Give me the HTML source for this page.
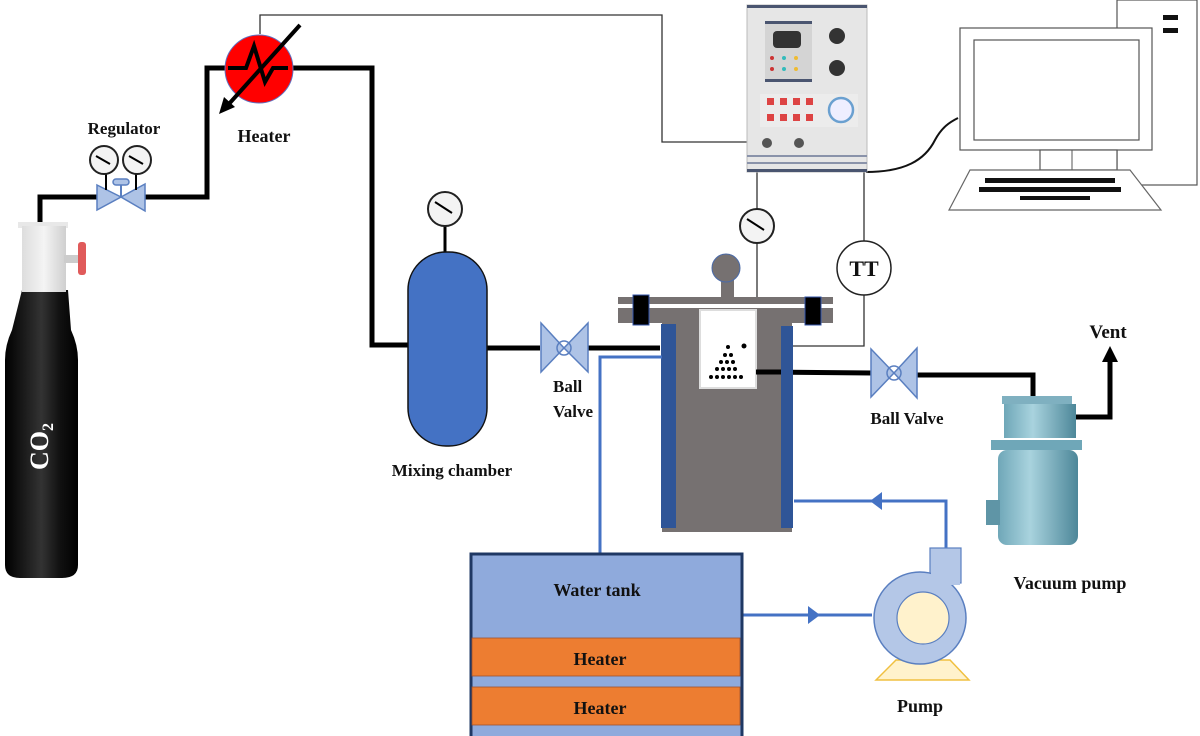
<!DOCTYPE html>
<html><head><meta charset="utf-8"><style>
html,body{margin:0;padding:0;background:#fff;}
svg{display:block;}
text{font-family:"Liberation Serif",serif;font-weight:bold;fill:#111;}
</style></head><body>
<svg width="1200" height="736" viewBox="0 0 1200 736" xmlns="http://www.w3.org/2000/svg">
<defs>
<linearGradient id="cyl" x1="0" x2="1"><stop offset="0" stop-color="#000"/><stop offset="0.5" stop-color="#333"/><stop offset="0.75" stop-color="#111"/><stop offset="1" stop-color="#000"/></linearGradient>
<linearGradient id="cap" x1="0" x2="1"><stop offset="0" stop-color="#ddd"/><stop offset="0.5" stop-color="#f4f4f4"/><stop offset="1" stop-color="#cfcfcf"/></linearGradient>
<linearGradient id="vp" x1="0" x2="1"><stop offset="0" stop-color="#6fa7b8"/><stop offset="0.4" stop-color="#a9d3de"/><stop offset="1" stop-color="#4d8799"/></linearGradient>
</defs>

<!-- thin control lines -->
<polyline points="260,34 260,15 662,15 662,142 748,142" fill="none" stroke="#333" stroke-width="1.3"/>
<line x1="757" y1="172" x2="757" y2="302" stroke="#333" stroke-width="1.3"/>
<line x1="864" y1="172" x2="864" y2="242" stroke="#333" stroke-width="1.3"/>
<polyline points="864,294 864,346 744,346" fill="none" stroke="#333" stroke-width="1.3"/>
<path d="M866,172 C905,172 925,160 935,140 C942,127 950,122 958,118" fill="none" stroke="#111" stroke-width="2"/>

<!-- gas pipes -->
<polyline points="40,222 40,197 100,197" fill="none" stroke="#000" stroke-width="5"/>
<polyline points="145,197 207,197 207,68 235,68" fill="none" stroke="#000" stroke-width="5"/>
<polyline points="283,68 372,68 372,345 410,345" fill="none" stroke="#000" stroke-width="5"/>
<line x1="487" y1="348" x2="540" y2="348" stroke="#000" stroke-width="5"/>
<line x1="587" y1="348" x2="660" y2="348" stroke="#000" stroke-width="5"/>
<line x1="758" y1="372" x2="872" y2="373" stroke="#000" stroke-width="5"/>
<polyline points="917,375 1033,375 1033,397" fill="none" stroke="#000" stroke-width="5"/>
<polyline points="1076,417 1110,417 1110,358" fill="none" stroke="#000" stroke-width="5"/>
<path d="M1102,362 L1110,346 L1118,362 z" fill="#000"/>

<!-- CO2 cylinder -->
<path d="M22,290 L68,290 L71,330 Q78,345 78,360 L78,565 Q78,578 62,578 L20,578 Q5,578 5,565 L5,360 Q5,345 12,330 Z" fill="url(#cyl)"/>
<rect x="18" y="222" width="50" height="6" fill="#e8e8e8"/>
<rect x="22" y="226" width="44" height="66" fill="url(#cap)"/>
<rect x="64" y="255" width="16" height="8" fill="#ccc"/>
<rect x="78" y="242" width="8" height="33" rx="3" fill="#e05a5a"/>
<text transform="translate(48,470) rotate(-90)" font-size="26" style="fill:#fff">CO<tspan font-size="16" dy="5">2</tspan></text>

<!-- regulator -->
<g stroke="#5a7fc0" stroke-width="1.5" fill="#aec3e6">
<path d="M97,185 L121,197 L97,210 Z"/><path d="M145,184 L121,197 L145,211 Z"/>
<rect x="113" y="179" width="16" height="6" rx="3"/>
</g>
<line x1="121" y1="185" x2="121" y2="197" stroke="#5a7fc0" stroke-width="2"/>
<line x1="106" y1="172" x2="106" y2="190" stroke="#000" stroke-width="2"/>
<line x1="136" y1="172" x2="136" y2="190" stroke="#000" stroke-width="2"/>
<circle cx="104" cy="160" r="14" fill="#f3f3f3" stroke="#222" stroke-width="2"/>
<circle cx="137" cy="160" r="14" fill="#f3f3f3" stroke="#222" stroke-width="2"/>
<line x1="96" y1="156" x2="110" y2="164" stroke="#000" stroke-width="2"/>
<line x1="129" y1="156" x2="143" y2="164" stroke="#000" stroke-width="2"/>
<text x="124" y="134" font-size="17" text-anchor="middle">Regulator</text>

<!-- heater -->
<circle cx="259" cy="69" r="34" fill="#f00" stroke="#6070c0" stroke-width="1"/>
<polyline points="228,68 246,68 254,46 265,82 273,68 288,68" fill="none" stroke="#000" stroke-width="4"/>
<line x1="300" y1="25" x2="228" y2="105" stroke="#000" stroke-width="4"/>
<path d="M219,114 L224,97 L235,107 Z" fill="#000"/>
<text x="264" y="142" font-size="18" text-anchor="middle">Heater</text>

<!-- mixing chamber -->
<line x1="445" y1="225" x2="445" y2="255" stroke="#000" stroke-width="3"/>
<circle cx="445" cy="209" r="17" fill="#f3f3f3" stroke="#222" stroke-width="2"/>
<line x1="435" y1="202" x2="452" y2="213" stroke="#000" stroke-width="2"/>
<rect x="408" y="252" width="79" height="194" rx="38" fill="#4472c4" stroke="#111" stroke-width="1.5"/>
<text x="452" y="476" font-size="17" text-anchor="middle">Mixing chamber</text>

<!-- ball valve 1 -->
<g stroke="#5a7fc0" stroke-width="1.5" fill="#aec3e6">
<path d="M541,323 L564,348 L541,372 Z"/><path d="M588,323 L564,348 L588,372 Z"/>
<circle cx="564" cy="348" r="7" fill="none"/>
</g>
<text x="553" y="392" font-size="17">Ball</text>
<text x="553" y="417" font-size="17">Valve</text>

<!-- control panel -->
<rect x="747" y="5" width="120" height="167" fill="#e6e6e6" stroke="#bbb"/>
<rect x="747" y="5" width="120" height="3" fill="#4a5570"/>
<rect x="747" y="155" width="120" height="2" fill="#8a93aa"/>
<rect x="747" y="162" width="120" height="2" fill="#8a93aa"/>
<rect x="747" y="169" width="120" height="3" fill="#4a5570"/>
<rect x="765" y="21" width="47" height="61" fill="#d4d4d4"/>
<rect x="765" y="21" width="47" height="3" fill="#4a5570"/>
<rect x="765" y="79" width="47" height="3" fill="#4a5570"/>
<rect x="773" y="31" width="28" height="17" rx="4" fill="#333"/>
<g fill="#c33"><circle cx="772" cy="58" r="2"/><circle cx="772" cy="69" r="2"/></g>
<g fill="#3bb"><circle cx="784" cy="58" r="2"/><circle cx="784" cy="69" r="2"/></g>
<g fill="#eb3"><circle cx="796" cy="58" r="2"/><circle cx="796" cy="69" r="2"/></g>
<circle cx="837" cy="36" r="8" fill="#333"/>
<circle cx="837" cy="68" r="8" fill="#333"/>
<rect x="760" y="94" width="98" height="33" fill="#ececec"/>
<g fill="#d44">
<rect x="767" y="98" width="7" height="7"/><rect x="780" y="98" width="7" height="7"/><rect x="793" y="98" width="7" height="7"/><rect x="806" y="98" width="7" height="7"/>
<rect x="767" y="114" width="7" height="7"/><rect x="780" y="114" width="7" height="7"/><rect x="793" y="114" width="7" height="7"/><rect x="806" y="114" width="7" height="7"/>
</g>
<circle cx="841" cy="110" r="12" fill="#eef" stroke="#6aa0d0" stroke-width="2.5"/>
<circle cx="767" cy="143" r="5" fill="#555"/>
<circle cx="799" cy="143" r="5" fill="#555"/>

<!-- computer -->
<rect x="1117" y="0" width="80" height="185" fill="#fff" stroke="#555" stroke-width="1.2"/>
<rect x="1163" y="15" width="15" height="5" fill="#111"/>
<rect x="1163" y="28" width="15" height="5" fill="#111"/>
<rect x="960" y="28" width="192" height="122" fill="#fff" stroke="#555" stroke-width="1.2"/>
<rect x="974" y="40" width="165" height="100" fill="#fff" stroke="#555" stroke-width="1.2"/>
<rect x="1040" y="150" width="77" height="20" fill="#fff" stroke="#555" stroke-width="1.2"/>
<line x1="1072" y1="150" x2="1072" y2="170" stroke="#555"/>
<path d="M970,170 L1130,170 L1161,210 L949,210 Z" fill="#fff" stroke="#666" stroke-width="1.2"/>
<g fill="#111">
<rect x="985" y="178" width="130" height="5"/>
<rect x="979" y="187" width="142" height="5"/>
<rect x="1020" y="196" width="70" height="4"/>
</g>

<!-- gauge reactor -->
<circle cx="757" cy="226" r="17" fill="#f3f3f3" stroke="#222" stroke-width="2"/>
<line x1="747" y1="219" x2="764" y2="230" stroke="#000" stroke-width="2"/>
<!-- TT -->
<circle cx="864" cy="268" r="27" fill="#fff" stroke="#222" stroke-width="1.5"/>
<text x="864" y="276" font-size="22" text-anchor="middle">TT</text>

<!-- reactor -->
<rect x="721" y="272" width="13" height="30" fill="#767171"/>
<circle cx="726" cy="268" r="14" fill="#767171" stroke="#4a6aa8"/>
<rect x="618" y="297" width="215" height="7" fill="#767171"/>
<rect x="618" y="308" width="215" height="15" fill="#767171"/>
<rect x="633" y="295" width="16" height="30" fill="#000" stroke="#3355aa"/>
<rect x="805" y="297" width="16" height="28" fill="#000" stroke="#3355aa"/>
<rect x="662" y="322" width="130" height="210" fill="#767171"/>
<rect x="661" y="324" width="15" height="204" fill="#2f5597"/>
<rect x="781" y="326" width="12" height="202" fill="#2f5597"/>
<rect x="700" y="310" width="56" height="78" fill="#fff" stroke="#ddd" stroke-width="2"/>
<g fill="#000">
<circle cx="744" cy="346" r="2.5"/>
<circle cx="728" cy="347" r="2"/>
<circle cx="725" cy="355" r="2"/><circle cx="731" cy="355" r="2"/>
<circle cx="721" cy="362" r="2"/><circle cx="727" cy="362" r="2"/><circle cx="733" cy="362" r="2"/>
<circle cx="717" cy="369" r="2"/><circle cx="723" cy="369" r="2"/><circle cx="729" cy="369" r="2"/><circle cx="735" cy="369" r="2"/>
<circle cx="711" cy="377" r="2"/><circle cx="717" cy="377" r="2"/><circle cx="723" cy="377" r="2"/><circle cx="729" cy="377" r="2"/><circle cx="735" cy="377" r="2"/><circle cx="741" cy="377" r="2"/>
</g>
<line x1="756" y1="372" x2="781" y2="372" stroke="#000" stroke-width="5"/>

<!-- ball valve 2 -->
<g stroke="#5a7fc0" stroke-width="1.5" fill="#aec3e6">
<path d="M871,349 L894,373 L871,397 Z"/><path d="M917,348 L894,373 L917,398 Z"/>
<circle cx="894" cy="373" r="7" fill="none"/>
</g>
<text x="907" y="424" font-size="17" text-anchor="middle">Ball Valve</text>

<!-- vacuum pump -->
<rect x="1002" y="396" width="70" height="8" fill="#7fb0c0"/>
<rect x="1004" y="404" width="72" height="34" fill="url(#vp)"/>
<rect x="991" y="440" width="91" height="10" fill="#6fa7b8"/>
<rect x="998" y="450" width="80" height="95" rx="9" fill="url(#vp)"/>
<rect x="986" y="500" width="14" height="25" fill="#5f95a6"/>
<text x="1108" y="338" font-size="19" text-anchor="middle">Vent</text>
<text x="1070" y="589" font-size="18" text-anchor="middle">Vacuum pump</text>

<!-- water lines -->
<polyline points="662,357 600,357 600,553" fill="none" stroke="#4472c4" stroke-width="3"/>
<line x1="742" y1="615" x2="872" y2="615" stroke="#4472c4" stroke-width="3"/>
<path d="M808,606 L820,615 L808,624 Z" fill="#4472c4"/>
<polyline points="946,548 946,501 794,501" fill="none" stroke="#4472c4" stroke-width="3"/>
<path d="M882,492 L870,501 L882,510 Z" fill="#4472c4"/>

<!-- water tank -->
<rect x="471" y="554" width="271" height="184" fill="#8faadc" stroke="#1f3864" stroke-width="3"/>
<rect x="472" y="638" width="268" height="38" fill="#ed7d31" stroke="#a0522d" stroke-width="0.8"/>
<rect x="472" y="687" width="268" height="38" fill="#ed7d31" stroke="#a0522d" stroke-width="0.8"/>
<text x="597" y="596" font-size="18" text-anchor="middle">Water tank</text>
<text x="600" y="665" font-size="18" text-anchor="middle">Heater</text>
<text x="600" y="714" font-size="18" text-anchor="middle">Heater</text>

<!-- pump -->
<path d="M876,680 L896,660 L950,660 L969,680 Z" fill="#fff2cc" stroke="#f0c040" stroke-width="1.5"/>
<rect x="930" y="548" width="31" height="35" fill="#b4c7e7" stroke="#5a7fc0" stroke-width="1.2"/>
<circle cx="920" cy="618" r="46" fill="#b4c7e7" stroke="#5a7fc0" stroke-width="1.5"/>
<rect x="931" y="549" width="29" height="36" fill="#b4c7e7"/>
<circle cx="923" cy="618" r="26" fill="#fff2cc" stroke="#5a7fc0" stroke-width="1.2"/>
<text x="920" y="712" font-size="18" text-anchor="middle">Pump</text>
</svg>
</body></html>
